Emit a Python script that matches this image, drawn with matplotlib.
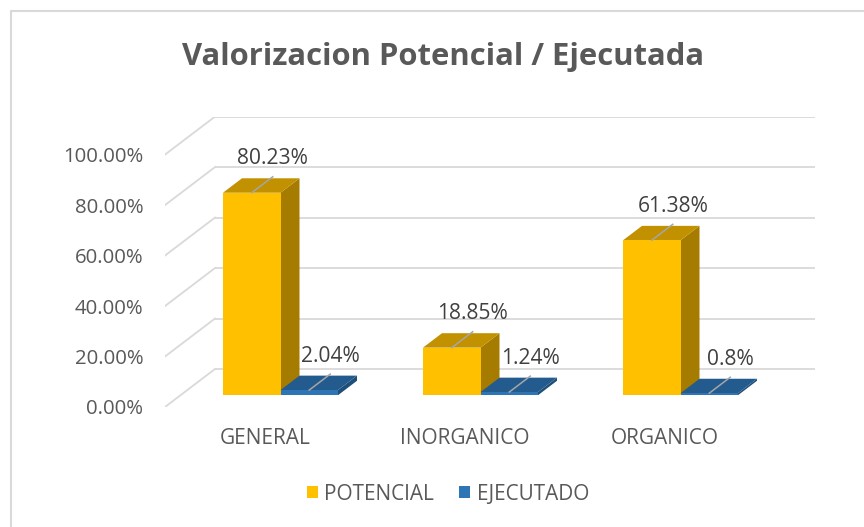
import matplotlib
matplotlib.use("Agg")
import matplotlib.pyplot as plt
from matplotlib.patches import Polygon, Rectangle, Patch
from matplotlib.font_manager import FontProperties

# ---------------- data ----------------
categories = ["GENERAL", "INORGANICO", "ORGANICO"]
series_names = ["POTENCIAL", "EJECUTADO"]
potencial = [80.23, 18.85, 61.38]
ejecutado = [2.04, 1.24, 0.8]
potencial_labels = ["80.23%", "18.85%", "61.38%"]
ejecutado_labels = ["2.04%", "1.24%", "0.8%"]
yticks = [0, 20, 40, 60, 80, 100]
ytick_labels = ["0.00%", "20.00%", "40.00%", "60.00%", "80.00%", "100.00%"]
title = "Valorizacion Potencial / Ejecutada"

# ---------------- style ----------------
FONT = "Open Sans"
TXT = "#595959"
GRID = "#D9D9D9"
front_cols = ["#FFC000", "#2E75B6"]
top_cols = ["#C29100", "#245B8E"]
side_cols = ["#A67C00", "#1F4E79"]

W, H, DPI = 864, 527, 100
fig = plt.figure(figsize=(W / DPI, H / DPI), dpi=DPI)
fig.patch.set_facecolor("white")

# oblique projection parameters (depth direction)
DX = 0.25      # category units for full depth
DY = 15.06     # percent units for full depth
Z0, Z1 = 0.31, 0.69
GAP = 0.2125
BW = 0.2875

ax = fig.add_axes([165 / W, (H - 407) / H, 650 / W, 290.4 / H])
ax.set_xlim(0, 3 + DX)
ax.set_ylim(0, 100 + DY)
for s in ax.spines.values():
    s.set_visible(False)
ax.set_facecolor("none")


def proj(x, y, z):
    return (x + z * DX, y + z * DY)


r = fig.canvas.get_renderer()


def size_for(s, target_px, weight="normal"):
    fp = FontProperties(family=FONT, weight=weight, size=10)
    w, h, d = r.get_text_width_height_descent(s, fp, ismath=False)
    return 10 * target_px / w


fs_tick = size_for("100.00%", 81)
fs_cat = size_for("GENERAL", 91)
fs_lab = size_for("80.23%", 71)
fs_leg = size_for("POTENCIAL", 110)
fs_title = size_for(title, 525, "bold")

# gridlines: back wall + left side
ncat = len(categories)
for v in yticks:
    xa, ya = proj(0, v, 1)
    xb, yb = proj(ncat, v, 1)
    ax.plot([xa, xb], [ya, yb], color=GRID, lw=1.3, solid_capstyle="butt", zorder=1)
    xf, yf = proj(0, v, 0)
    ax.plot([xf, xa], [yf, ya], color=GRID, lw=1.3, zorder=1)

# bars
data = [potencial, ejecutado]
labels = [potencial_labels, ejecutado_labels]
zo = 2
for i in range(ncat):
    for s in range(2):
        v = data[s][i]
        x0 = i + GAP + s * BW
        x1 = x0 + BW
        side = [proj(x1, 0, Z0), proj(x1, 0, Z1), proj(x1, v, Z1), proj(x1, v, Z0)]
        top = [proj(x0, v, Z0), proj(x1, v, Z0), proj(x1, v, Z1), proj(x0, v, Z1)]
        front = [proj(x0, 0, Z0), proj(x1, 0, Z0), proj(x1, v, Z0), proj(x0, v, Z0)]
        ax.add_patch(Polygon(side, closed=True, fc=side_cols[s], ec="none", zorder=zo))
        ax.add_patch(Polygon(top, closed=True, fc=top_cols[s], ec="none", zorder=zo))
        ax.add_patch(Polygon(front, closed=True, fc=front_cols[s], ec="none", zorder=zo))
        zo += 1

# data labels with leader lines
for i in range(ncat):
    for s in range(2):
        v = data[s][i]
        xc = i + GAP + s * BW + BW / 2
        p0 = proj(xc, v, Z0)
        p1 = proj(xc, v, Z0 + 0.42)
        ax.plot([p0[0], p1[0]], [p0[1], p1[1]], color="#A6A6A6", lw=1.1, zorder=20)
        ax.annotate(labels[s][i], xy=p1, xytext=(0, 13), textcoords="offset points",
                    ha="center", va="center", fontsize=fs_lab, color="#404040",
                    family=FONT, zorder=21)

# y tick labels (front plane)
ax.set_yticks(yticks)
ax.set_yticklabels(ytick_labels, fontsize=fs_tick, color=TXT, family=FONT)
ax.tick_params(axis="y", length=0, pad=15.5)
ax.set_xticks([])

# category labels at front plane
for i, c in enumerate(categories):
    ax.annotate(c, xy=(i + 0.5, 0), xycoords="data", xytext=(0, -22.5),
                textcoords="offset points", ha="center", va="center",
                fontsize=fs_cat, color=TXT, family=FONT)

# title
fig.text(443.5 / W, 1 - 57 / H, title, ha="center", va="center",
         fontsize=fs_title, fontweight="bold", color=TXT, family=FONT)

# legend
handles = [Patch(facecolor=front_cols[k], edgecolor="none") for k in range(2)]
leg = fig.legend(handles, series_names, loc="center", bbox_to_anchor=(448 / W, 1 - 494 / H),
                 ncol=2, frameon=False, handlelength=0.52, handleheight=0.52,
                 handletextpad=0.33, columnspacing=1.2,
                 prop=FontProperties(family=FONT, size=fs_leg))
for t in leg.get_texts():
    t.set_color(TXT)

# chart border
fig.add_artist(Rectangle((11 / W, -0.5), 2, 1.5 - 11 / H, transform=fig.transFigure,
                         fill=False, ec=GRID, lw=1.5))

fig.savefig("out.png", dpi=DPI)
